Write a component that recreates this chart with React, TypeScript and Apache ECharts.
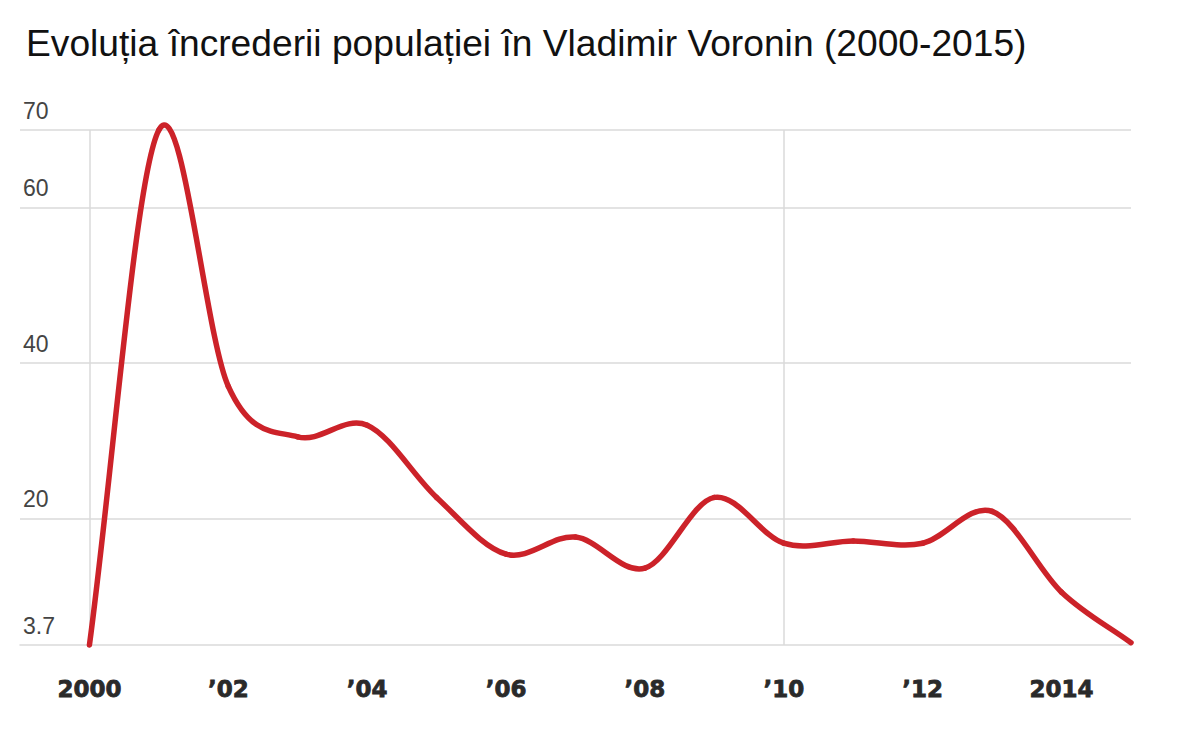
import React, { useEffect, useRef } from "react";
import * as echarts from "echarts";

const years = [2000, 2001, 2002, 2003, 2004, 2005, 2006, 2007, 2008, 2009, 2010, 2011, 2012, 2013, 2014, 2015];
const trust = [3.7, 70, 37, 30.5, 32, 22.7, 15.4, 17.6, 13.6, 22.7, 16.8, 17.1, 16.8, 20.9, 10.5, 4.0];
const xTickYears = [2000, 2002, 2004, 2006, 2008, 2010, 2012, 2014];
const xTickLabels: Record<number, string> = {
  2000: "2000",
  2002: "\u201902",
  2004: "\u201904",
  2006: "\u201906",
  2008: "\u201908",
  2010: "\u201910",
  2012: "\u201912",
  2014: "2014",
};
const yTickValues = [3.7, 20, 40, 60, 70];
const yGridValues = [20, 40, 60, 70];
const xGridYears = [2000, 2010];
const titleText = "Evoluția încrederii populației în Vladimir Voronin (2000-2015)";

const SANS = "'Liberation Sans', Arial, sans-serif";
const LINE_COLOR = "#cc2229";

export default function App() {
  const ref = useRef<HTMLDivElement>(null);
  useEffect(() => {
    document.body.style.margin = "0";
    if (!ref.current) return;
    const chart = echarts.init(ref.current, null, { renderer: "svg" });
    const grid = "#dadada";

    // Catmull-Rom spline segment from point i to i+1, in pixel space via the axes' scales
    const renderSegment = (params: any, api: any) => {
      const i = params.dataIndex;
      const n = years.length;
      if (i >= n - 1) return null;
      const P = (k: number) => {
        if (k < 0) {
          const a = api.coord([years[0], trust[0]]);
          const b = api.coord([years[1], trust[1]]);
          return [2 * a[0] - b[0], 2 * a[1] - b[1]];
        }
        if (k > n - 1) {
          const a = api.coord([years[n - 1], trust[n - 1]]);
          const b = api.coord([years[n - 2], trust[n - 2]]);
          return [2 * a[0] - b[0], 2 * a[1] - b[1]];
        }
        return api.coord([years[k], trust[k]]);
      };
      const p0 = P(i - 1);
      const p1 = P(i);
      const p2 = P(i + 1);
      const p3 = P(i + 2);
      return {
        type: "bezierCurve",
        shape: {
          x1: p1[0],
          y1: p1[1],
          cpx1: p1[0] + (p2[0] - p0[0]) / 6,
          cpy1: p1[1] + (p2[1] - p0[1]) / 6,
          cpx2: p2[0] - (p3[0] - p1[0]) / 6,
          cpy2: p2[1] - (p3[1] - p1[1]) / 6,
          x2: p2[0],
          y2: p2[1],
        },
        style: { fill: "none", stroke: LINE_COLOR, lineWidth: 5.5, lineCap: "round", lineJoin: "round" },
      };
    };

    chart.setOption({
      animation: false,
      backgroundColor: "#ffffff",
      title: {
        text: titleText,
        left: 21,
        top: 19,
        textStyle: { fontFamily: SANS, fontSize: 37.2, fontWeight: "normal", color: "#111111" },
      },
      grid: { left: 20, right: 50, top: 130, bottom: 105 },
      xAxis: {
        type: "value",
        min: 1999,
        max: 2015,
        axisLine: { show: true, lineStyle: { color: grid, width: 1.5 } },
        axisTick: { show: false },
        splitLine: { show: false },
        axisLabel: {
          customValues: xTickYears,
          formatter: (v: number) => xTickLabels[v] ?? "",
          fontFamily: "'DejaVu Sans', sans-serif",
          fontWeight: "bold",
          fontSize: 23,
          color: "#2a2a2a",
          textBorderColor: "#2a2a2a",
          textBorderWidth: 0.8,
          margin: 32,
        },
      },
      yAxis: {
        type: "value",
        min: 3.7,
        max: 70,
        axisLine: { show: false },
        axisTick: { show: false },
        splitLine: { show: false },
        axisLabel: {
          customValues: yTickValues,
          inside: true,
          align: "left",
          verticalAlign: "bottom",
          margin: 3,
          padding: [0, 0, 8, 0],
          fontFamily: SANS,
          fontSize: 23,
          color: "#444444",
          formatter: (v: number) => String(v),
        },
      },
      series: [
        {
          type: "line",
          data: [],
          symbol: "none",
          silent: true,
          markLine: {
            silent: true,
            symbol: ["none", "none"],
            label: { show: false },
            lineStyle: { color: grid, width: 1.5, type: "solid" },
            data: [
              ...yGridValues.map((v) => ({ yAxis: v })),
              ...xGridYears.map((v) => ({ xAxis: v })),
            ],
          },
        },
        {
          type: "custom",
          name: "Încredere",
          coordinateSystem: "cartesian2d",
          data: years.map((y, i) => [y, trust[i]]),
          encode: { x: 0, y: 1 },
          clip: false,
          z: 5,
          renderItem: renderSegment,
        },
      ],
    });
    return () => chart.dispose();
  }, []);
  return <div ref={ref} style={{ width: 1181, height: 750 }} />;
}
